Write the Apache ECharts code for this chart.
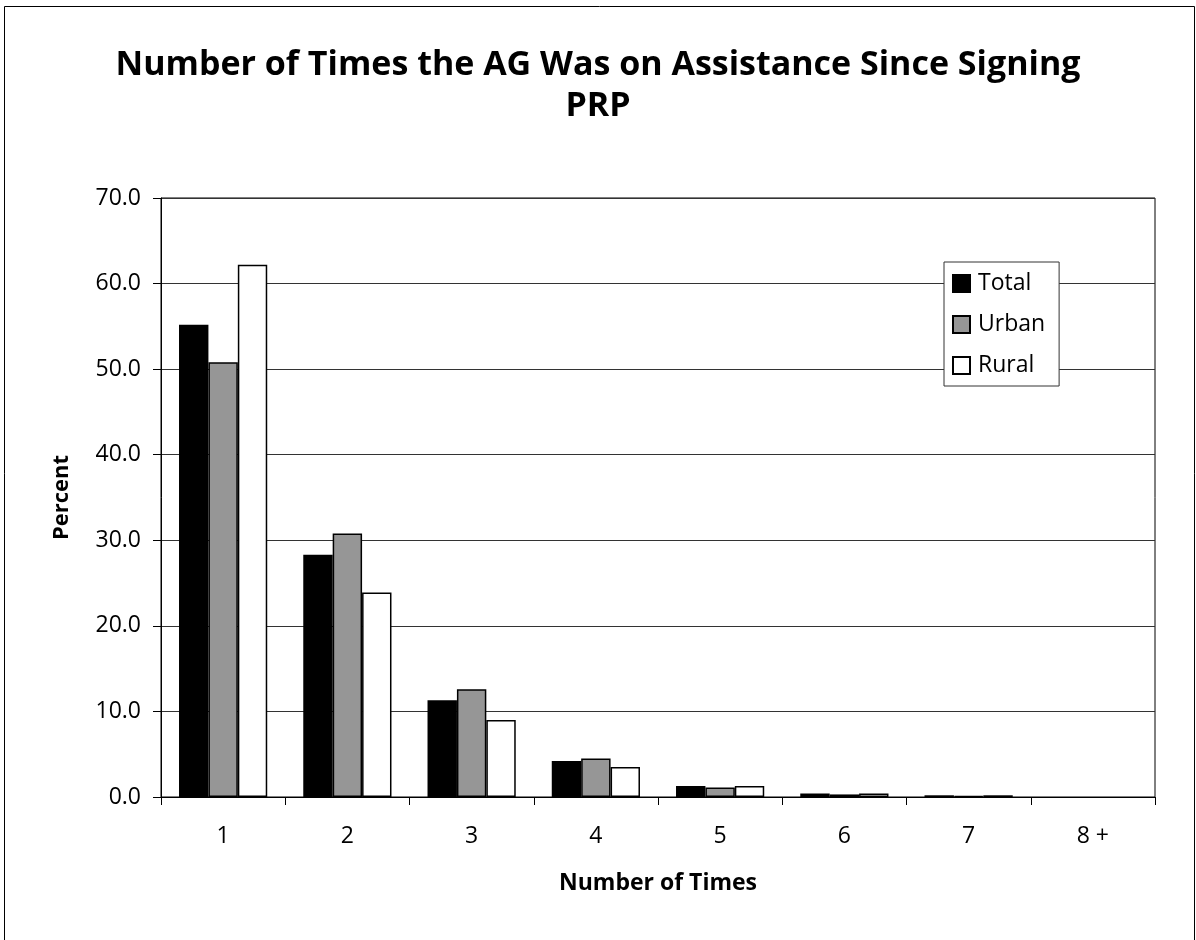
<!DOCTYPE html>
<html>
<head>
<meta charset="utf-8">
<script src="https://cdn.jsdelivr.net/npm/echarts@6/dist/echarts.min.js"></script>
<style>
html, body { margin: 0; padding: 0; background: #fff; }
#chartmain { width: 1196px; height: 940px; }
</style>
</head>
<body>
<div id="chartmain"></div>
<script>
var categories = ['1', '2', '3', '4', '5', '6', '7', '8 +'];
var totalData = [55.2, 28.3, 11.3, 4.2, 1.3, 0.4, 0.2, 0];
var urbanData = [50.8, 30.8, 12.6, 4.5, 1.1, 0.3, 0.1, 0];
var ruralData = [62.2, 23.9, 9.0, 3.5, 1.3, 0.4, 0.2, 0];

var fontName = 'Open Sans';

// zero values get no outline, so nothing is drawn on the axis
function toItems(arr) {
    return arr.map(function (v) {
        return v === 0 ? { value: v, itemStyle: { borderWidth: 0 } } : v;
    });
}

var option = {
    animation: false,
    backgroundColor: '#fff',
    title: {
        text: 'Number of Times the AG Was on Assistance Since Signing\nPRP',
        left: 'center',
        top: 40,
        textStyle: {
            fontFamily: fontName,
            fontWeight: 'bold',
            fontSize: 34,
            lineHeight: 41,
            color: '#000'
        }
    },
    graphic: [
        {
            type: 'rect',
            shape: { x: 4.5, y: 6.5, width: 1190, height: 960 },
            style: { fill: 'none', stroke: '#000', lineWidth: 1 },
            silent: true
        }
    ],
    legend: {
        orient: 'vertical',
        left: 944,
        top: 262,
        padding: [10, 14, 9, 8],
        itemGap: 18,
        itemWidth: 17,
        itemHeight: 17,
        backgroundColor: '#fff',
        borderColor: '#333',
        borderWidth: 1,
        icon: 'rect',
        textStyle: {
            fontFamily: fontName,
            fontSize: 23,
            color: '#000',
            padding: [0, 0, 0, 3]
        },
        data: ['Total', 'Urban', 'Rural']
    },
    grid: {
        left: 161,
        right: 41,
        top: 198,
        bottom: 143,
        show: true,
        borderColor: '#000',
        borderWidth: 1
    },
    xAxis: {
        type: 'category',
        data: categories,
        name: 'Number of Times',
        nameLocation: 'middle',
        nameGap: 75,
        nameTextStyle: {
            fontFamily: fontName,
            fontWeight: 'bold',
            fontSize: 23,
            color: '#000'
        },
        axisLine: { show: true, lineStyle: { color: '#000', width: 1 } },
        axisTick: { show: true, length: 8, lineStyle: { color: '#000' } },
        axisLabel: {
            margin: 28,
            fontFamily: fontName,
            fontSize: 23,
            color: '#000'
        }
    },
    yAxis: {
        type: 'value',
        min: 0,
        max: 70,
        interval: 10,
        name: 'Percent',
        nameLocation: 'middle',
        nameGap: 88,
        nameTextStyle: {
            fontFamily: fontName,
            fontWeight: 'bold',
            fontSize: 22,
            color: '#000'
        },
        axisLine: { show: true, lineStyle: { color: '#000', width: 1 } },
        axisTick: { show: true, length: 8, lineStyle: { color: '#000' } },
        axisLabel: {
            margin: 20,
            fontFamily: fontName,
            fontSize: 23,
            color: '#000',
            formatter: function (v) { return v.toFixed(1); }
        },
        splitLine: { show: true, lineStyle: { color: '#333', width: 1 } }
    },
    series: [
        {
            name: 'Total',
            type: 'bar',
            barGap: '0%',
            barCategoryGap: '29%',
            itemStyle: { color: '#000', borderColor: '#000', borderWidth: 1.5 },
            data: toItems(totalData)
        },
        {
            name: 'Urban',
            type: 'bar',
            itemStyle: { color: '#969696', borderColor: '#000', borderWidth: 1.5 },
            data: toItems(urbanData)
        },
        {
            name: 'Rural',
            type: 'bar',
            itemStyle: { color: '#fff', borderColor: '#000', borderWidth: 1.5 },
            data: toItems(ruralData)
        }
    ]
};

var myChart = echarts.init(document.getElementById('chartmain'));
myChart.setOption(option);
</script>
</body>
</html>
